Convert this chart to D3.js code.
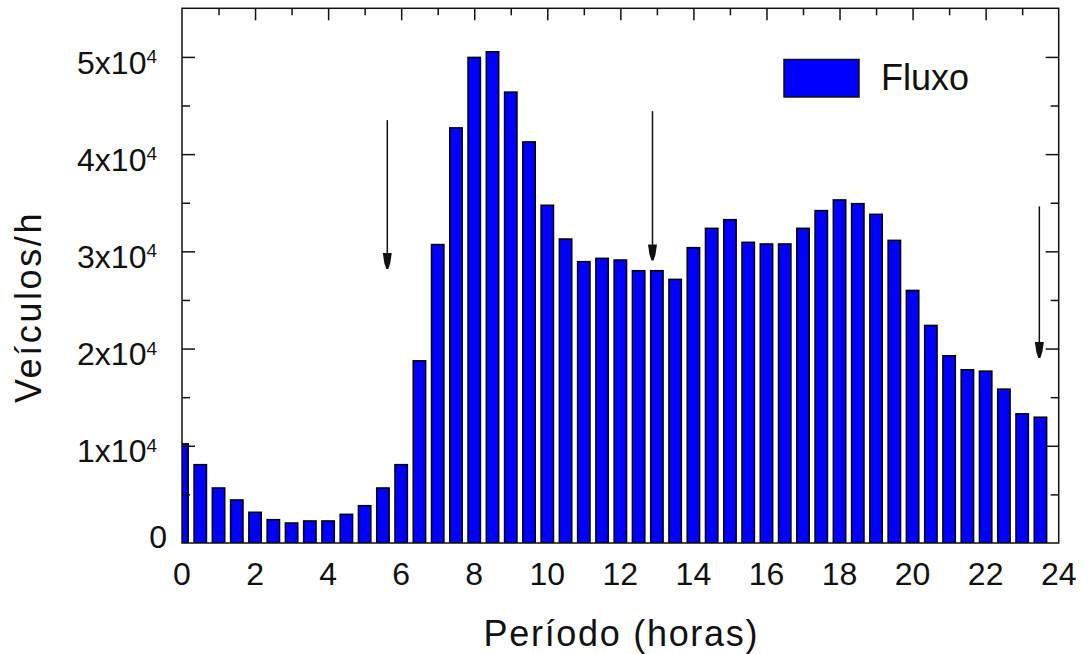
<!doctype html>
<html>
  <head>
    <meta charset="utf-8" />
    <title>Fluxo</title>
    <style>
      body {
        margin: 0;
        background: #fff;
      }
      svg {
        display: block;
      }
      text {
        font-family: "Liberation Sans", Arial, sans-serif;
        fill: #111;
      }
    </style>
  </head>
  <body>
    <svg id="chart" width="1089" height="654"></svg>
    <script src="https://d3js.org/d3.v7.min.js"></script>
    <script>
      // half-hour periods (bar centres, in hours)
      const periods = [
        0, 0.5, 1, 1.5, 2, 2.5, 3, 3.5, 4, 4.5, 5, 5.5, 6, 6.5, 7, 7.5, 8, 8.5,
        9, 9.5, 10, 10.5, 11, 11.5, 12, 12.5, 13, 13.5, 14, 14.5, 15, 15.5, 16,
        16.5, 17, 17.5, 18, 18.5, 19, 19.5, 20, 20.5, 21, 21.5, 22, 22.5, 23,
        23.5,
      ];
      // vehicles per hour
      const fluxo = [
        10200, 8060, 5660, 4430, 3160, 2400, 2060, 2270, 2270, 2950, 3840, 5660,
        8060, 18740, 30700, 42700, 49950, 50530, 46380, 41260, 34740, 31270,
        28940, 29280, 29110, 28010, 28010, 27120, 30380, 32370, 33260, 30930,
        30760, 30760, 32370, 34190, 35290, 34910, 33810, 31130, 25980, 22380,
        19260, 17820, 17680, 15830, 13290, 12940,
      ];
      const xTicks = [0, 2, 4, 6, 8, 10, 12, 14, 16, 18, 20, 22, 24];
      const yTicks = [0, 10000, 20000, 30000, 40000, 50000];
      const yTickMantissa = ["0", "1", "2", "3", "4", "5"];
      // annotation arrows: hour, start value, tip value
      const arrowX = [5.62, 12.88, 23.47];
      const arrowTop = [43500, 44420, 34630];
      const arrowTip = [28190, 29070, 19020];

      const plotLeft = 182,
        plotRight = 1058.7,
        plotTop = 8.3,
        plotBottom = 543;

      const svg = d3.select("#chart");

      const x = d3.scaleLinear().domain([0, 24]).range([plotLeft, plotRight]);
      const y = d3.scaleLinear().domain([0, 55000]).range([plotBottom, plotTop]);

      svg
        .append("clipPath")
        .attr("id", "plot-clip")
        .append("rect")
        .attr("x", plotLeft)
        .attr("y", plotTop)
        .attr("width", plotRight - plotLeft)
        .attr("height", plotBottom - plotTop);

      // bars
      const barW = x(0.34) - x(0);
      svg
        .append("g")
        .attr("clip-path", "url(#plot-clip)")
        .selectAll("rect")
        .data(periods)
        .enter()
        .append("rect")
        .attr("x", (d) => x(d) - barW / 2)
        .attr("y", (d, i) => y(fluxo[i]))
        .attr("width", barW)
        .attr("height", (d, i) => y(0) - y(fluxo[i]))
        .attr("fill", "#0000ff")
        .attr("stroke", "#000")
        .attr("stroke-width", 1.5);

      // inward ticks on left, right and top
      const minorY = d3.range(5000, 55000, 10000);
      const minorX = d3.range(1, 24, 2);

      function tickGroup(axis) {
        const g = svg.append("g").call(axis);
        g.select(".domain").remove();
        g.selectAll("text").remove();
        g.selectAll("line").attr("stroke", "#111").attr("stroke-width", 1.5);
        return g;
      }

      tickGroup(d3.axisLeft(y).tickValues(yTicks.slice(1)).tickSize(-13)).attr(
        "transform",
        `translate(${plotLeft},0)`,
      );
      tickGroup(d3.axisLeft(y).tickValues(minorY).tickSize(-8)).attr(
        "transform",
        `translate(${plotLeft},0)`,
      );
      tickGroup(d3.axisRight(y).tickValues(yTicks.slice(1)).tickSize(-13)).attr(
        "transform",
        `translate(${plotRight},0)`,
      );
      tickGroup(d3.axisRight(y).tickValues(minorY).tickSize(-8)).attr(
        "transform",
        `translate(${plotRight},0)`,
      );
      tickGroup(d3.axisTop(x).tickValues(xTicks.slice(1, -1)).tickSize(-12)).attr(
        "transform",
        `translate(0,${plotTop})`,
      );
      tickGroup(d3.axisTop(x).tickValues(minorX).tickSize(-7)).attr(
        "transform",
        `translate(0,${plotTop})`,
      );

      // frame
      svg
        .append("rect")
        .attr("x", plotLeft)
        .attr("y", plotTop)
        .attr("width", plotRight - plotLeft)
        .attr("height", plotBottom - plotTop)
        .attr("fill", "none")
        .attr("stroke", "#111")
        .attr("stroke-width", 1.5);

      // x tick labels
      svg
        .append("g")
        .selectAll("text")
        .data(xTicks)
        .enter()
        .append("text")
        .attr("x", (d) => x(d))
        .attr("y", 585)
        .attr("text-anchor", "middle")
        .style("font-size", "32px")
        .text((d) => d);

      // y tick labels (a x 10^4)
      const yLab = svg
        .append("g")
        .selectAll("text")
        .data(yTicks)
        .enter()
        .append("text")
        .attr("text-anchor", "end")
        .style("font-size", "32px")
        .attr("x", (d) => (d === 0 ? 167 : 157))
        .attr("y", (d) => (d === 0 ? 548 : y(d) + 16.7));

      yLab.each(function (d, i) {
        const t = d3.select(this);
        if (d === 0) {
          t.text(yTickMantissa[i]);
          return;
        }
        t.append("tspan").text(yTickMantissa[i] + "x10");
        t.append("tspan")
          .attr("dy", -10.7)
          .style("font-size", "19px")
          .text("4");
      });

      // axis titles
      svg
        .append("text")
        .attr("x", (plotLeft + plotRight) / 2 + 1)
        .attr("y", 646)
        .attr("text-anchor", "middle")
        .style("font-size", "36px")
        .style("letter-spacing", "1.7px")
        .text("Período (horas)");

      svg
        .append("text")
        .attr("transform", "translate(41,307) rotate(-90)")
        .attr("text-anchor", "middle")
        .style("font-size", "36px")
        .style("letter-spacing", "2.6px")
        .text("Veículos/h");

      // arrows
      const arrows = svg.append("g");
      arrowX.forEach((h, i) => {
        const ax = x(h),
          y0 = y(arrowTop[i]),
          y1 = y(arrowTip[i]);
        arrows
          .append("line")
          .attr("x1", ax)
          .attr("x2", ax)
          .attr("y1", y0)
          .attr("y2", y1 - 6)
          .attr("stroke", "#111")
          .attr("stroke-width", 1.5);
        arrows
          .append("path")
          .attr(
            "d",
            `M${ax - 4.5},${y1 - 16} L${ax + 4.5},${y1 - 16} L${ax + 3},${y1 - 6} L${ax + 1},${y1} L${ax - 1},${y1} L${ax - 3},${y1 - 6} Z`,
          )
          .attr("fill", "#111");
      });

      // legend
      svg
        .append("rect")
        .attr("x", 784)
        .attr("y", 59.5)
        .attr("width", 75)
        .attr("height", 37.5)
        .attr("fill", "#0000ff")
        .attr("stroke", "#111")
        .attr("stroke-width", 1.5);
      svg
        .append("text")
        .attr("x", 881)
        .attr("y", 90)
        .style("font-size", "36px")
        .text("Fluxo");
    </script>
  </body>
</html>
